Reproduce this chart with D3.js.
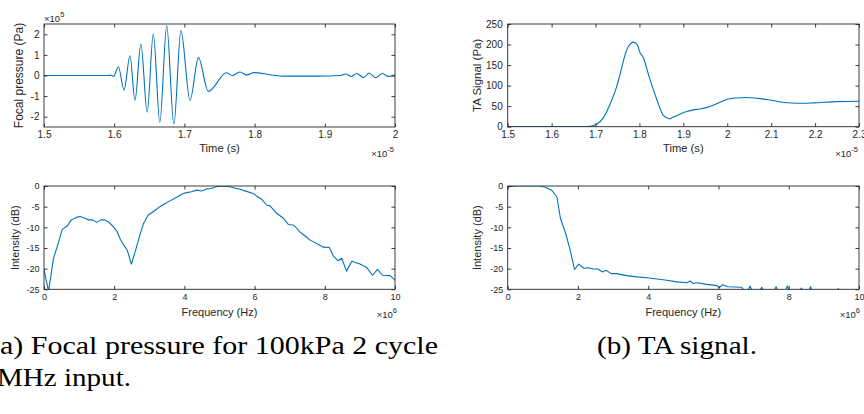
<!DOCTYPE html>
<html><head><meta charset="utf-8">
<script src="https://cdn.jsdelivr.net/npm/d3@7/dist/d3.min.js"></script>
<style>
html,body{margin:0;padding:0;background:#fff;overflow:hidden}
svg{display:block}
</style></head>
<body>
<script>
// ---------- data ----------
// (a) focal pressure: time (x1e-5 s), pressure (x1e5 Pa)
const focalTime = [1.5,1.59,1.596,1.599,1.606,1.614,1.6225,1.6296,1.638,1.647,1.6557,1.665,1.6748,1.685,1.695,1.708,1.720,1.734,1.760,1.768,1.779,1.789,1.7996,1.822,1.841,1.89,1.922,1.930,1.938,1.945,1.956,1.963,1.9725,1.982,1.9905,2.0];
const focalPressure = [0,0,0.01,-0.05,0.41,-0.70,0.96,-1.21,1.53,-1.78,2.03,-2.28,2.42,-2.37,2.18,-1.21,0.87,-0.77,0.13,0.0,0.17,0.03,0.14,0.04,-0.03,-0.03,0.0,0.07,-0.05,0.10,-0.10,0.12,-0.11,0.10,-0.05,0.03];
// (b) TA signal: time (x1e-5 s), signal (Pa)
const taTime = [1.5,1.67,1.687,1.703,1.718,1.737,1.748,1.756,1.771,1.779,1.786,1.795,1.801,1.809,1.822,1.839,1.854,1.866,1.870,1.874,1.881,1.893,1.908,1.923,1.938,1.961,1.985,2.0,2.02,2.044,2.07,2.097,2.13,2.16,2.196,2.25,2.3];
const taSignal = [0,0,1,6,22,65,97,128,187,201,206,200,181,168,122,68,28,20,19,22,25,31,37,41,43,49,60,67,70,71,69,65,59,57,58,61,62];
// spectra: frequency (x1e6 Hz), intensity (dB)
const focalFreq = [0,0.13,0.27,0.39,0.52,0.66,0.78,0.92,1.03,1.17,1.27,1.39,1.50,1.62,1.73,1.84,1.97,2.08,2.18,2.27,2.37,2.49,2.61,2.73,2.84,2.97,3.15,3.30,3.44,3.59,3.78,3.95,4.06,4.20,4.35,4.49,4.63,4.77,4.90,5.05,5.29,5.43,5.58,5.77,5.96,6.05,6.20,6.34,6.44,6.63,6.82,6.96,7.12,7.29,7.44,7.58,7.77,7.96,8.13,8.24,8.38,8.48,8.62,8.77,9.0,9.19,9.36,9.5,9.64,9.86,10];
const focalDb = [-20.2,-25.5,-17.5,-14.3,-10.5,-9.7,-8.2,-7.6,-7.4,-7.8,-8.2,-8.2,-8.8,-8.2,-8.2,-8.7,-9.8,-11,-13,-14.3,-15.5,-18.9,-15.5,-11.9,-9.0,-7.0,-6.0,-5.0,-4.3,-3.6,-2.7,-1.9,-1.6,-1.4,-1.0,-1.2,-0.7,-0.6,-0.2,0,-0.2,-0.5,-0.8,-1.3,-1.8,-2.4,-3.2,-4.6,-4.8,-6.6,-7.8,-9.3,-9.5,-11.1,-12.1,-13.1,-13.9,-14.8,-14.9,-16.9,-18.1,-17.5,-20.6,-18.2,-18.9,-19.7,-21.6,-20.2,-21.6,-21.7,-22.8];
const taFreq = [0,0.26,0.92,1.07,1.26,1.40,1.50,1.65,1.77,1.90,2.02,2.17,2.30,2.43,2.57,2.70,2.80,2.95,3.10,3.39,3.67,3.96,4.25,4.53,4.82,5.10,5.19,5.28,5.38,5.67,5.95,6.02,6.12,6.28,6.66,6.75,6.83,6.90,6.97,7.15,7.23,7.31,7.56,7.64,7.72,7.88,7.96,8.04,8.28,8.36,8.44,8.54,8.62,8.70,9.33,9.41,9.49,10];
const taDb = [-0.2,0,0,-0.3,-1.1,-2.6,-7.8,-11.5,-15.2,-20.2,-18.9,-19.9,-19.8,-20.1,-20.1,-20.8,-20.4,-21.2,-21.2,-21.7,-22.0,-22.2,-22.5,-22.8,-23.2,-23.4,-23.0,-23.6,-23.4,-23.8,-24.1,-24.6,-23.9,-24.4,-24.5,-25.6,-25.4,-24.2,-25.6,-25.6,-24.5,-25.8,-25.8,-24.4,-26,-26,-24.2,-26,-26,-24.7,-26,-26,-24.4,-26,-26,-24.8,-26,-26.5];

// ticks
const timeTicksA = [1.5,1.6,1.7,1.8,1.9,2.0];
const timeLabelsA = ["1.5","1.6","1.7","1.8","1.9","2"];
const pressTicks = [-2,-1,0,1,2];
const pressLabels = ["-2","-1","0","1","2"];
const timeTicksB = [1.5,1.6,1.7,1.8,1.9,2.0,2.1,2.2,2.3];
const timeLabelsB = ["1.5","1.6","1.7","1.8","1.9","2","2.1","2.2","2.3"];
const taTicks = [0,50,100,150,200,250];
const taLabels = ["0","50","100","150","200","250"];
const freqTicks = [0,2,4,6,8,10];
const freqLabels = ["0","2","4","6","8","10"];
const dbTicks = [-25,-20,-15,-10,-5,0];
const dbLabels = ["-25","-20","-15","-10","-5","0"];

// ---------- drawing ----------
const W = 864, H = 414;
const SANS = "'Liberation Sans', Arial, Helvetica, sans-serif";
const SERIF = "'Liberation Serif', 'DejaVu Serif', 'Times New Roman', serif";
const svg = d3.select("body").append("svg").attr("width", W).attr("height", H);
const LINE = "#0072BD", AX = "#262626";
let clipId = 0;

function panel(o) {
  const x = d3.scaleLinear().domain(o.xd).range([o.x0, o.x1]);
  const y = d3.scaleLinear().domain(o.yd).range([o.y1, o.y0]);
  const g = svg.append("g");
  const id = "clip" + (clipId++);
  svg.append("clipPath").attr("id", id).append("rect")
    .attr("x", o.x0).attr("y", o.y0).attr("width", o.x1 - o.x0).attr("height", o.y1 - o.y0);
  const pts = o.xs.map((v, i) => [v, o.ys[i]]);
  g.append("path").attr("clip-path", `url(#${id})`)
    .attr("d", d3.line().x(d => x(d[0])).y(d => y(d[1])).curve(o.curve || d3.curveLinear)(pts))
    .attr("fill", "none").attr("stroke", LINE).attr("stroke-width", 1.1).attr("stroke-linejoin", "round");
  const T = 3.5;
  const styleAxis = sel => {
    sel.select(".domain").remove();
    sel.selectAll("line").attr("stroke", AX).attr("stroke-width", 0.9);
    sel.selectAll("text").attr("fill", AX).style("font-size", o.tickFont + "px").style("font-family", SANS);
  };
  g.append("g").attr("transform", `translate(0,${o.y1})`)
    .call(d3.axisBottom(x).tickValues(o.xt).tickFormat((d, i) => o.xl[i]).tickSizeInner(-T).tickSizeOuter(0).tickPadding(o.xpad))
    .call(styleAxis);
  g.append("g").attr("transform", `translate(0,${o.y0})`)
    .call(d3.axisTop(x).tickValues(o.xt).tickFormat("").tickSizeInner(-T).tickSizeOuter(0))
    .call(styleAxis);
  g.append("g").attr("transform", `translate(${o.x0},0)`)
    .call(d3.axisLeft(y).tickValues(o.yt).tickFormat((d, i) => o.yl[i]).tickSizeInner(-T).tickSizeOuter(0).tickPadding(o.ypad))
    .call(styleAxis);
  g.append("g").attr("transform", `translate(${o.x1},0)`)
    .call(d3.axisRight(y).tickValues(o.yt).tickFormat("").tickSizeInner(-T).tickSizeOuter(0))
    .call(styleAxis);
  g.append("rect").attr("x", o.x0).attr("y", o.y0).attr("width", o.x1 - o.x0).attr("height", o.y1 - o.y0)
    .attr("fill", "none").attr("stroke", AX).attr("stroke-width", 0.9);
  g.append("text").attr("x", (o.x0 + o.x1) / 2).attr("y", o.xlabY).attr("text-anchor", "middle")
    .style("font-family", SANS).style("fill", AX).style("font-size", o.xlabFont + "px").text(o.xlab);
  g.append("text").attr("transform", `translate(${o.ylabX},${(o.y0 + o.y1) / 2}) rotate(-90)`)
    .attr("text-anchor", "middle").style("font-family", SANS).style("fill", AX)
    .style("font-size", o.ylabFont + "px").text(o.ylab);
  (o.exps || []).forEach(e => {
    const t = g.append("text").attr("x", e.x).attr("y", e.y).style("font-family", SANS).style("fill", AX)
      .style("font-size", "9.5px").attr("text-anchor", e.anchor || "start");
    t.append("tspan").text("\u00d710");
    t.append("tspan").attr("dy", -5).style("font-size", "7.5px").text(e.p);
  });
}

panel({x0: 44, x1: 395, y0: 24, y1: 127, xd: [1.5, 2.0], yd: [-2.5, 2.5],
  xs: focalTime, ys: focalPressure, curve: d3.curveMonotoneX,
  xt: timeTicksA, xl: timeLabelsA, yt: pressTicks, yl: pressLabels, tickFont: 10, xpad: 4, ypad: 4.5,
  xlab: "Time (s)", xlabY: 152, xlabFont: 11.2, ylab: "Focal pressure (Pa)", ylabX: 23, ylabFont: 12,
  exps: [{x: 44, y: 22, p: "5"}, {x: 394, y: 157, p: "-5", anchor: "end"}]});

panel({x0: 507.7, x1: 859, y0: 24, y1: 126.7, xd: [1.5, 2.3], yd: [0, 250],
  xs: taTime, ys: taSignal, curve: d3.curveMonotoneX,
  xt: timeTicksB, xl: timeLabelsB, yt: taTicks, yl: taLabels, tickFont: 10, xpad: 4, ypad: 5,
  xlab: "Time (s)", xlabY: 152, xlabFont: 11.2, ylab: "TA Signal (Pa)", ylabX: 481, ylabFont: 11.5,
  exps: [{x: 858, y: 157, p: "-5", anchor: "end"}]});

panel({x0: 44, x1: 395, y0: 186, y1: 289.3, xd: [0, 10], yd: [-25, 0],
  xs: focalFreq, ys: focalDb,
  xt: freqTicks, xl: freqLabels, yt: dbTicks, yl: dbLabels, tickFont: 9, xpad: 4.5, ypad: 4.5,
  xlab: "Frequency (Hz)", xlabY: 316, xlabFont: 11, ylab: "Intensity (dB)", ylabX: 19, ylabFont: 11,
  exps: [{x: 397, y: 318, p: "6", anchor: "end"}]});

panel({x0: 507.7, x1: 859, y0: 186, y1: 289.3, xd: [0, 10], yd: [-25, 0],
  xs: taFreq, ys: taDb,
  xt: freqTicks, xl: freqLabels, yt: dbTicks, yl: dbLabels, tickFont: 9, xpad: 4.5, ypad: 4.5,
  xlab: "Frequency (Hz)", xlabY: 316, xlabFont: 11, ylab: "Intensity (dB)", ylabX: 481, ylabFont: 11,
  exps: [{x: 860, y: 318, p: "6", anchor: "end"}]});

// captions
function caption(txt, xx, yy, len, anchor) {
  svg.append("text").attr("x", xx).attr("y", yy).attr("text-anchor", anchor || "start")
    .style("font-family", SERIF).style("fill", "#000").style("font-size", "26px")
    .attr("textLength", len).attr("lengthAdjust", "spacingAndGlyphs").text(txt);
}
caption("(a) Focal pressure for 100kPa 2 cycle", 438, 354, 448, "end");
caption("MHz input.", -3, 386, 134);
caption("(b) TA signal.", 597, 354, 160);
</script>
</body></html>
